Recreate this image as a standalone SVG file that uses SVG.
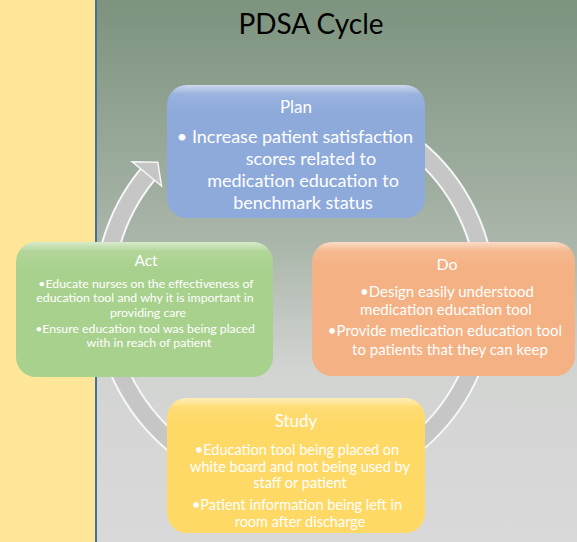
<svg xmlns="http://www.w3.org/2000/svg" width="577" height="542" viewBox="0 0 577 542">
  <defs>
    <linearGradient id="bg" x1="0" y1="0" x2="0" y2="1">
      <stop offset="0" stop-color="#7C937E"/>
      <stop offset="0.45" stop-color="#AAB6AA"/>
      <stop offset="0.68" stop-color="#D2D4D2"/>
      <stop offset="1" stop-color="#D9D9D9"/>
    </linearGradient>
    <linearGradient id="gloss" x1="0" y1="0" x2="0" y2="1">
      <stop offset="0" stop-color="#FFFFFF" stop-opacity="0.55"/>
      <stop offset="0.07" stop-color="#FFFFFF" stop-opacity="0.1"/>
      <stop offset="0.2" stop-color="#FFFFFF" stop-opacity="0"/>
      <stop offset="1" stop-color="#FFFFFF" stop-opacity="0"/>
    </linearGradient>
    <style>
      .box { stroke: none; }
      .gl { fill: url(#gloss); }
      .t { font-family: Lato, "Liberation Sans", sans-serif; fill: #FFFFFF; text-anchor: middle; }
      .title { font-family: Lato, "Liberation Sans", sans-serif; fill: #000000; text-anchor: middle; font-size: 28px; }
      .ring { fill: none; stroke-linecap: butt; }
    </style>
  </defs>

  <rect x="0" y="0" width="577" height="542" fill="url(#bg)"/>
  <rect x="0" y="0" width="95" height="542" fill="#FFE699"/>
  <rect x="95" y="0" width="2" height="542" fill="#41719C"/>

  <text class="title" x="311" y="34">PDSA Cycle</text>

  <g id="connectors">
    <path class="ring" d="M 344.4 111.5 A 191 191 0 1 1 147.6 174.5" stroke="#F4F6F8" stroke-width="20"/>
    <path class="ring" d="M 344.4 111.5 A 191 191 0 1 1 147.6 174.5" stroke="#C6C6C6" stroke-width="16"/>
    <polygon points="132.2,161.8 157.8,162.2 161.5,186" fill="#C6C6C6" stroke="#F4F6F8" stroke-width="1.5" stroke-linejoin="miter"/>
  </g>

  <g id="node-plan">
    <rect class="box" x="167" y="85" width="258" height="133" rx="20" fill="#8EAADB"/>
    <rect class="gl" x="167" y="85" width="258" height="133" rx="20"/>
    <text class="t" x="296" y="113" font-size="17">Plan</text>
    <text class="t" x="295" y="143" font-size="18">•  Increase patient satisfaction</text>
    <text class="t" x="311" y="165" font-size="18">scores related to</text>
    <text class="t" x="303" y="187" font-size="18">medication education to</text>
    <text class="t" x="303" y="209" font-size="18">benchmark status</text>
  </g>

  <g id="node-do">
    <rect class="box" x="312" y="242" width="263" height="134" rx="20" fill="#F4B183"/>
    <rect class="gl" x="312" y="242" width="263" height="134" rx="20"/>
    <text class="t" x="447" y="270" font-size="16">Do</text>
    <text class="t" x="447" y="297" font-size="15">•Design easily understood</text>
    <text class="t" x="446" y="315" font-size="15">medication education tool</text>
    <text class="t" x="445" y="336" font-size="15">•Provide medication education tool</text>
    <text class="t" x="450" y="355" font-size="15">to patients that they can keep</text>
  </g>

  <g id="node-study">
    <rect class="box" x="167" y="398" width="258" height="135" rx="20" fill="#FFD966"/>
    <rect class="gl" x="167" y="398" width="258" height="135" rx="20"/>
    <text class="t" x="296" y="427" font-size="17">Study</text>
    <text class="t" x="297" y="455" font-size="14.5">•Education tool being placed on</text>
    <text class="t" x="300" y="472" font-size="14.5">white board and not being used by</text>
    <text class="t" x="300" y="488" font-size="14.5">staff or patient</text>
    <text class="t" x="297" y="510" font-size="14.5">•Patient information being left in</text>
    <text class="t" x="300" y="527" font-size="14.5">room after discharge</text>
  </g>

  <g id="node-act">
    <rect class="box" x="16" y="242" width="257" height="135" rx="20" fill="#A9D18E"/>
    <rect class="gl" x="16" y="242" width="257" height="135" rx="20"/>
    <text class="t" x="146" y="266" font-size="15.5">Act</text>
    <text class="t" x="146" y="288" font-size="12.3">•Educate nurses on the effectiveness of</text>
    <text class="t" x="145" y="302" font-size="12.3">education tool and why it is important in</text>
    <text class="t" x="148" y="317" font-size="12.3">providing care</text>
    <text class="t" x="145" y="333" font-size="12.3">•Ensure education tool was being placed</text>
    <text class="t" x="149" y="347" font-size="12.3">with in reach of patient</text>
  </g>
</svg>
